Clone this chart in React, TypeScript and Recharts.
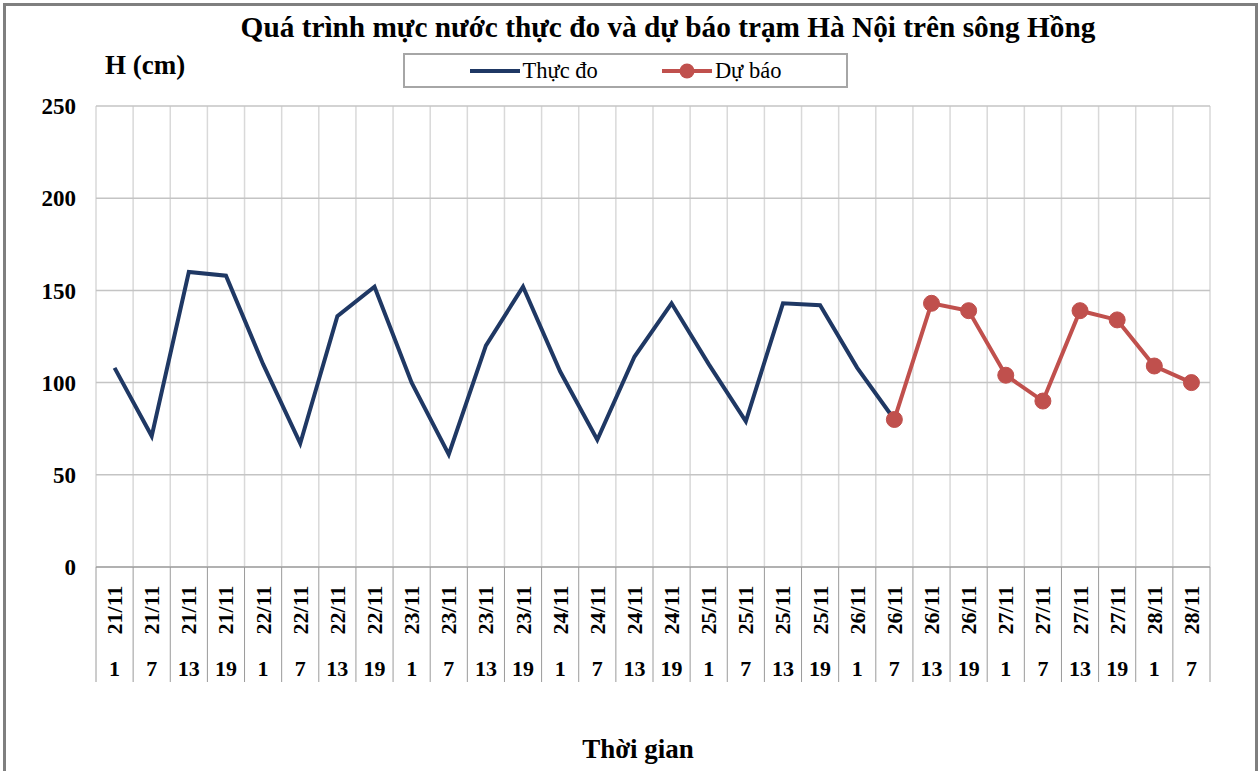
import React from 'react';
import {
  LineChart,
  Line,
  XAxis,
  YAxis,
  CartesianGrid,
  Legend,
} from 'recharts';

const dates = [
  '21/11', '21/11', '21/11', '21/11',
  '22/11', '22/11', '22/11', '22/11',
  '23/11', '23/11', '23/11', '23/11',
  '24/11', '24/11', '24/11', '24/11',
  '25/11', '25/11', '25/11', '25/11',
  '26/11', '26/11', '26/11', '26/11',
  '27/11', '27/11', '27/11', '27/11',
  '28/11', '28/11',
];
const hours = [
  '1', '7', '13', '19', '1', '7', '13', '19', '1', '7', '13', '19',
  '1', '7', '13', '19', '1', '7', '13', '19', '1', '7', '13', '19',
  '1', '7', '13', '19', '1', '7',
];
const thucDo = [
  108, 71, 160, 158, 110, 67, 136, 152, 100, 61, 120, 152,
  106, 69, 114, 143, 110, 79, 143, 142, 108, 80,
  null, null, null, null, null, null, null, null,
];
const duBao = [
  null, null, null, null, null, null, null, null, null, null, null, null,
  null, null, null, null, null, null, null, null, null,
  80, 143, 139, 104, 90, 139, 134, 109, 100,
];
const yTicks = [0, 50, 100, 150, 200, 250];
const seriesOrder = ['thucDo', 'duBao'];

const data = dates.map((d, i) => ({
  pos: i + 0.5,
  date: d,
  hour: hours[i],
  thucDo: thucDo[i],
  duBao: duBao[i],
}));
const xTicks = Array.from({ length: dates.length + 1 }, (_, i) => i);

const W = 1258;
const H = 771;
const LEFT = 96;
const RIGHT = 48;
const PLOT_W = W - LEFT - RIGHT;
const CELL = PLOT_W / dates.length;
const X_AXIS_H = 115;

const FONT = '"Liberation Serif", "Times New Roman", serif';
const BLUE = '#1F3864';
const RED = '#C0504D';

const XTick = (props: any) => {
  const { x, y, payload } = props;
  const i = payload.value as number;
  const top = y;
  const sep = <line x1={x} x2={x} y1={top} y2={top + X_AXIS_H} stroke="#9a9a9a" strokeWidth={1} />;
  if (i >= dates.length) return <g>{sep}</g>;
  const cx = x + CELL / 2;
  return (
    <g>
      {sep}
      <text
        x={cx}
        y={top + 43}
        transform={`rotate(-90 ${cx} ${top + 43})`}
        textAnchor="middle"
        dominantBaseline="central"
        fontFamily={FONT}
        fontWeight="bold"
        fontSize={22}
        fill="#000"
      >
        {dates[i]}
      </text>
      <text
        x={cx}
        y={top + 101}
        textAnchor="middle"
        dominantBaseline="central"
        fontFamily={FONT}
        fontWeight="bold"
        fontSize={22}
        fill="#000"
      >
        {hours[i]}
      </text>
    </g>
  );
};

const LegendBox = (props: any) => {
  const items = [...(props.payload || [])].sort(
    (a: any, b: any) => seriesOrder.indexOf(a.dataKey) - seriesOrder.indexOf(b.dataKey)
  );
  return (
    <div
      style={{
        width: 441,
        height: 31,
        border: '2px solid #a6a6a6',
        display: 'flex',
        alignItems: 'center',
        justifyContent: 'center',
        background: '#fff',
      }}
    >
      {items.map((p: any, k: number) => (
        <div key={k} style={{ display: 'flex', alignItems: 'center', marginLeft: k ? 64 : 0 }}>
          <svg width={50} height={20}>
            <line x1={0} x2={50} y1={10} y2={10} stroke={p.color} strokeWidth={4} />
            {p.dataKey === 'duBao' && <circle cx={25} cy={10} r={7.5} fill={p.color} />}
          </svg>
          <span style={{ marginLeft: 3, fontFamily: FONT, fontSize: 22.5, color: '#000' }}>{p.value}</span>
        </div>
      ))}
    </div>
  );
};

export default function App() {
  return (
    <div style={{ position: 'absolute', left: 0, top: 0, width: W, height: H, background: '#fff', overflow: 'hidden' }}>
      <div
        style={{
          position: 'absolute',
          left: 3,
          top: 3,
          width: W - 9,
          height: H + 20,
          border: '3px solid #7f7f7f',
        }}
      />
      <div
        style={{
          position: 'absolute',
          left: 0,
          width: W + 78,
          top: 11,
          textAlign: 'center',
          fontFamily: FONT,
          fontWeight: 'bold',
          fontSize: 29.3,
          whiteSpace: 'nowrap',
        }}
      >
        Quá trình mực nước thực đo và dự báo trạm Hà Nội trên sông Hồng
      </div>
      <div
        style={{
          position: 'absolute',
          left: 105,
          top: 50,
          fontFamily: FONT,
          fontWeight: 'bold',
          fontSize: 27,
          whiteSpace: 'nowrap',
        }}
      >
        H (cm)
      </div>
      <div
        style={{
          position: 'absolute',
          left: 0,
          width: W + 18,
          top: 734,
          textAlign: 'center',
          fontFamily: FONT,
          fontWeight: 'bold',
          fontSize: 27,
          whiteSpace: 'nowrap',
        }}
      >
        Thời gian
      </div>
      <div style={{ position: 'absolute', left: 0, top: 0 }}>
        <LineChart
          width={W}
          height={H}
          data={data}
          margin={{ top: 106, right: RIGHT, bottom: H - 106 - 461 - X_AXIS_H, left: 0 }}
        >
          <CartesianGrid horizontal={false} vertical stroke="#d9d9d9" strokeWidth={1.5} />
          <CartesianGrid horizontal vertical={false} stroke="#c4c4c4" strokeWidth={1.5} />
          <XAxis
            dataKey="pos"
            type="number"
            domain={[0, dates.length]}
            ticks={xTicks}
            interval={0}
            height={X_AXIS_H}
            tickLine={false}
            tickSize={0}
            tickMargin={0}
            axisLine={{ stroke: '#a6a6a6', strokeWidth: 1.5 }}
            tick={<XTick />}
          />
          <YAxis
            width={LEFT}
            domain={[0, 250]}
            ticks={yTicks}
            interval={0}
            axisLine={false}
            tickLine={false}
            tickSize={0}
            tickMargin={20}
            tick={{ fontFamily: FONT, fontWeight: 'bold', fontSize: 23, fill: '#000' }}
          />
          <Legend
            layout="horizontal"
            verticalAlign="middle"
            align="center"
            content={<LegendBox />}
            wrapperStyle={{ position: 'absolute', left: 403, top: 53, width: 445, height: 35 }}
          />
          <Line
            name="Thực đo"
            dataKey="thucDo"
            stroke={BLUE}
            strokeWidth={4}
            dot={false}
            activeDot={false}
            connectNulls={false}
            isAnimationActive={false}
          />
          <Line
            name="Dự báo"
            dataKey="duBao"
            stroke={RED}
            strokeWidth={4}
            dot={{ r: 8, fill: RED, stroke: RED, strokeWidth: 1 }}
            activeDot={false}
            connectNulls={false}
            isAnimationActive={false}
          />
        </LineChart>
      </div>
    </div>
  );
}
